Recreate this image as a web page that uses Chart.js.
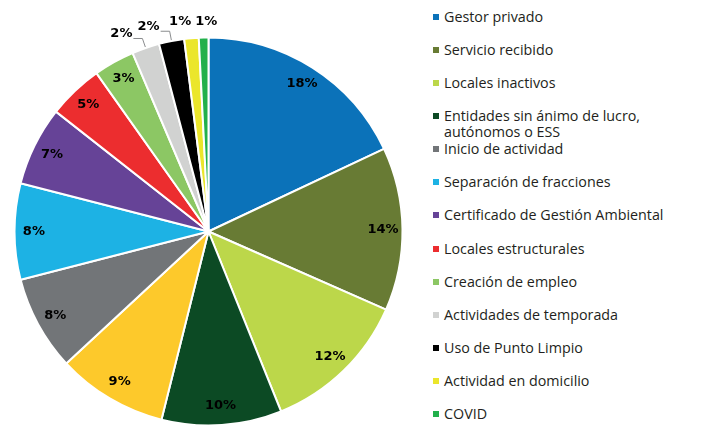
<!DOCTYPE html>
<html>
<head>
<meta charset="utf-8">
<script src="https://cdn.jsdelivr.net/npm/chart.js"></script>
<style>
  body { margin: 0; background: #fff; }
  #wrap { position: relative; width: 705px; height: 426px; }
  #pieBox { position: absolute; left: 0; top: 0; width: 420px; height: 426px; }
  #legend { position: absolute; left: 432px; top: 0; width: 272px; }
  .item { position: absolute; left: 0; white-space: nowrap; font-family: "Open Sans", sans-serif;
          font-size: 14.3px; line-height: 16px; color: #231f20; }
  .sw { position: absolute; left: 1px; top: 5px; width: 6px; height: 6px; }
  .txt { position: absolute; left: 12px; top: 0; }
</style>
</head>
<body>
<div id="wrap">
  <div id="pieBox"><canvas id="pie"></canvas></div>
  <div id="legend"></div>
</div>
<script>
// slices clockwise from 12 o'clock (the 9% yellow slice has no legend entry)
var categories = [
  'Gestor privado',
  'Servicio recibido',
  'Locales inactivos',
  ['Entidades sin ánimo de lucro,', 'autónomos o ESS'],
  '',
  'Inicio de actividad',
  'Separación de fracciones',
  'Certificado de Gestión Ambiental',
  'Locales estructurales',
  'Creación de empleo',
  'Actividades de temporada',
  'Uso de Punto Limpio',
  'Actividad en domicilio',
  'COVID'
];
var shares = [18, 13.6, 12.3, 10, 9.2, 7.9, 8, 6.6, 4.6, 3.4, 2.3, 2.1, 1.2, 0.8];
var colors = ['#0b72b9', '#687b34', '#bcd74a', '#0c4a24', '#fdc92b', '#727578', '#1db2e4',
              '#664397', '#ec2d2f', '#8cc764', '#d1d2d1', '#000000', '#ebe62b', '#22b04b'];

// legend (html)
var legend = document.getElementById('legend');
var row = 0;
for (var i = 0; i < categories.length; i++) {
  if (categories[i] === '') continue;
  var text = Array.isArray(categories[i]) ? categories[i].join('<br>') : categories[i];
  var el = document.createElement('div');
  el.className = 'item';
  el.style.top = (17 + 33.08 * row - 8) + 'px';
  el.innerHTML = '<span class="sw" style="background:' + colors[i] + '"></span><span class="txt">' + text + '</span>';
  legend.appendChild(el);
  row++;
}

// percentage labels, inside or outside the slices
var pctLabels = {
  id: 'pctLabels',
  afterDatasetsDraw: function (chart) {
    var ctx = chart.ctx;
    var meta = chart.getDatasetMeta(0);
    var data = chart.data.datasets[0].data;
    var total = data.reduce(function (a, b) { return a + b; }, 0);
    ctx.save();
    ctx.font = 'bold 13px "DejaVu Sans", sans-serif';
    ctx.fillStyle = '#000';
    ctx.textBaseline = 'middle';
    var prevLeft = null;
    for (var k = meta.data.length - 1; k >= 0; k--) {
      var arc = meta.data[k];
      var p = arc.getProps(['x', 'y', 'startAngle', 'endAngle', 'outerRadius'], true);
      var mid = (p.startAngle + p.endAngle) / 2;
      var pct = data[k] / total * 100;
      var txt = Math.round(pct) + '%';
      var w = ctx.measureText(txt).width;
      var cx = Math.cos(mid), cy = Math.sin(mid);
      if (pct >= 3) {
        ctx.textAlign = 'center';
        ctx.fillText(txt, p.x + cx * p.outerRadius * 0.9, p.y + cy * p.outerRadius * 0.9);
      } else if (pct < 1.5) {
        var x = p.x + cx * (p.outerRadius + 16) + 3;
        if (prevLeft !== null) x = Math.min(x, prevLeft - w / 2 - 4);
        ctx.textAlign = 'center';
        ctx.fillText(txt, x, p.y - p.outerRadius - 16);
        prevLeft = x - w / 2;
      } else {
        // leader line: short radial tick then a horizontal run to the left
        var x0 = p.x + cx * (p.outerRadius + 1), y0 = p.y + cy * (p.outerRadius + 1);
        var x1 = p.x + cx * (p.outerRadius + 10), y1 = p.y + cy * (p.outerRadius + 10);
        var x2 = x1 - 9;
        ctx.strokeStyle = '#8a8c8e';
        ctx.lineWidth = 1;
        ctx.beginPath();
        ctx.moveTo(x0, y0);
        ctx.lineTo(x1, y1);
        ctx.lineTo(x2, y1);
        ctx.stroke();
        ctx.textAlign = 'right';
        ctx.fillText(txt, x2 - 1, y1 - 5);
      }
    }
    ctx.restore();
  }
};

new Chart(document.getElementById('pie'), {
  type: 'pie',
  data: {
    labels: categories,
    datasets: [{
      data: shares,
      backgroundColor: colors,
      borderColor: '#ffffff',
      borderWidth: 2,
      hoverOffset: 0
    }]
  },
  options: {
    responsive: true,
    maintainAspectRatio: false,
    animation: false,
    radius: 194,
    layout: { padding: { top: 37, right: 3, left: 0, bottom: 0 } },
    plugins: {
      legend: { display: false },
      tooltip: { enabled: false }
    }
  },
  plugins: [pctLabels]
});
</script>
</body>
</html>
